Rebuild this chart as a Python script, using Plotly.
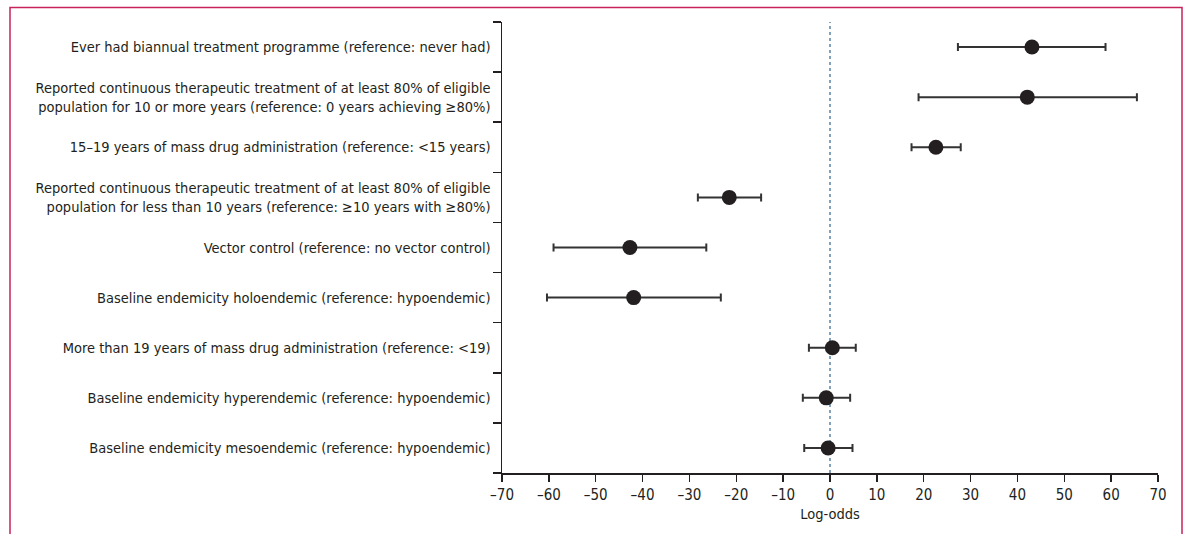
import plotly.graph_objects as go

labels = [
    "Ever had biannual treatment programme (reference: never had)",
    "Reported continuous therapeutic treatment of at least 80% of eligible<br>population for 10 or more years (reference: 0 years achieving ≥80%)",
    "15–19 years of mass drug administration (reference: <15 years)",
    "Reported continuous therapeutic treatment of at least 80% of eligible<br>population for less than 10 years (reference: ≥10 years with ≥80%)",
    "Vector control (reference: no vector control)",
    "Baseline endemicity holoendemic (reference: hypoendemic)",
    "More than 19 years of mass drug administration (reference: <19)",
    "Baseline endemicity hyperendemic (reference: hypoendemic)",
    "Baseline endemicity mesoendemic (reference: hypoendemic)",
]
estimate = [43.1, 42.1, 22.6, -21.5, -42.7, -41.9, 0.5, -0.8, -0.4]
ci_low = [27.3, 18.9, 17.4, -28.2, -59.0, -60.4, -4.5, -5.8, -5.5]
ci_high = [58.8, 65.5, 27.9, -14.7, -26.4, -23.3, 5.5, 4.3, 4.8]

x_ticks = list(range(-70, 71, 10))
x_ticktext = [("–" + str(-v)) if v < 0 else str(v) for v in x_ticks]

rows = list(range(len(labels)))
err_plus = [h - e for h, e in zip(ci_high, estimate)]
err_minus = [e - l for e, l in zip(estimate, ci_low)]

ink = "#231f20"
font_family = "DejaVu Sans Condensed, Liberation Sans Narrow, sans-serif"

fig = go.Figure()
fig.add_trace(go.Scatter(
    x=estimate, y=rows, mode="markers",
    marker=dict(size=15, color=ink, symbol="circle"),
    error_x=dict(type="data", symmetric=False, array=err_plus, arrayminus=err_minus,
                 color="#333333", thickness=2, width=4),
    showlegend=False, hoverinfo="skip",
))

fig.add_shape(type="line", xref="x", yref="paper", x0=0, x1=0, y0=0, y1=1,
              line=dict(color="#3f6f99", width=1.3, dash="3px,3px"), layer="below")

# magenta figure frame (open at bottom)
fig.add_shape(type="path", xref="paper", yref="paper",
              path="M -0.75 -0.2 L -0.75 1.0322 L 1.0366 1.0322 L 1.0366 -0.2",
              line=dict(color="#c8245a", width=1.5))

fig.update_layout(
    width=1189, height=534, autosize=False,
    margin=dict(l=502, r=31, t=22, b=61),
    paper_bgcolor="white", plot_bgcolor="white",
    font=dict(family=font_family, size=14.5, color=ink),
    xaxis=dict(
        range=[-70, 70], tickvals=x_ticks, ticktext=x_ticktext,
        showline=True, linecolor=ink, linewidth=1.5,
        ticks="outside", ticklen=7, tickwidth=1.5, tickcolor=ink,
        showgrid=False, zeroline=False,
        title=dict(text="Log-odds", standoff=6, font=dict(size=14.5)),
        tickfont=dict(size=15),
    ),
    yaxis=dict(
        range=[8.5, -0.5], tickvals=rows, ticktext=labels,
        showline=True, linecolor=ink, linewidth=1.5,
        ticks="", ticklabelstandoff=7,
        minor=dict(ticks="outside", tick0=0.5, dtick=1, ticklen=8, tickwidth=1.5,
                   tickcolor=ink, showgrid=False),
        showgrid=False, zeroline=False,
        tickfont=dict(size=14.5),
    ),
)

fig.write_html(
    "out.html",
    config={"displayModeBar": False, "staticPlot": True},
    post_script="document.body.style.margin='0';document.body.style.overflow='hidden';",
)
